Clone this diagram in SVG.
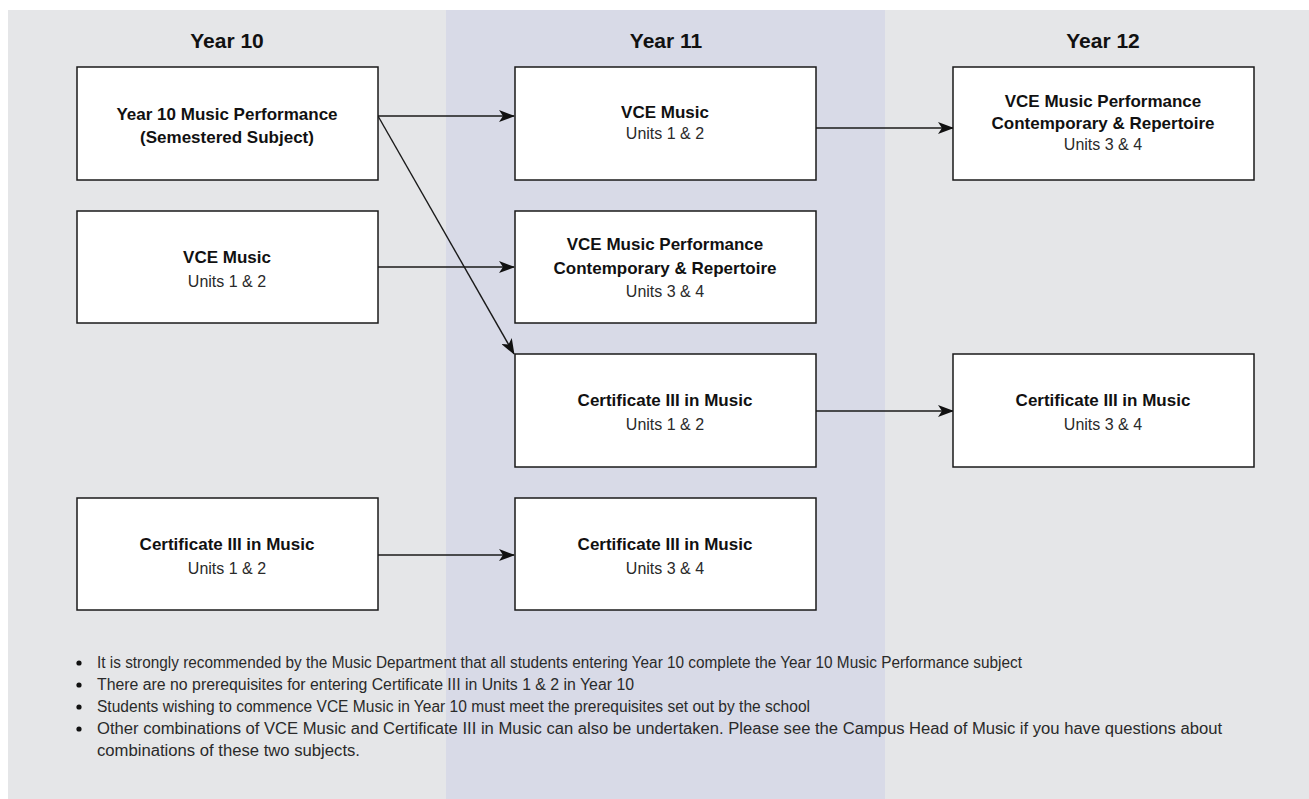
<svg xmlns="http://www.w3.org/2000/svg" width="1309" height="799" viewBox="0 0 1309 799">
<style>
.hdr{font-family:"Liberation Sans",Arial,sans-serif;font-weight:bold;font-size:21px;fill:#111;text-anchor:middle}
.box{fill:#fff;stroke:#1a1a1a;stroke-width:1.5}
.b{font-family:"Liberation Sans",Arial,sans-serif;font-weight:bold;font-size:17px;fill:#111;text-anchor:middle}
.r{font-family:"Liberation Sans",Arial,sans-serif;font-size:16px;fill:#2a2a2a;text-anchor:middle}
.n{font-family:"Liberation Sans",Arial,sans-serif;font-size:16px;fill:#2a2a2a}
.c{fill:none;stroke:#1a1a1a;stroke-width:1.4}
</style>
<defs>
<marker id="ah" viewBox="0 0 16 12" refX="15" refY="6" markerWidth="16" markerHeight="12" markerUnits="userSpaceOnUse" orient="auto">
<path d="M0,0 L16,6 L0,12 L4,6 Z" fill="#111"/>
</marker>
</defs>
<rect x="8" y="10" width="1301" height="789" fill="#e5e6e8"/>
<rect x="446" y="10" width="439" height="789" fill="#d8dae7"/>
<g id="headers">
<text class="hdr" x="227" y="48">Year 10</text>
<text class="hdr" x="666" y="48">Year 11</text>
<text class="hdr" x="1103" y="48">Year 12</text>
</g>
<g id="connectors">
<line class="c" x1="378" y1="116" x2="514" y2="116" marker-end="url(#ah)"/>
<line class="c" x1="378" y1="116" x2="514" y2="354" marker-end="url(#ah)"/>
<line class="c" x1="378" y1="267" x2="514" y2="267" marker-end="url(#ah)"/>
<line class="c" x1="816" y1="128" x2="953" y2="128" marker-end="url(#ah)"/>
<line class="c" x1="816" y1="411" x2="953" y2="411" marker-end="url(#ah)"/>
<line class="c" x1="378" y1="555" x2="514" y2="555" marker-end="url(#ah)"/>
</g>
<g id="y10-performance">
<rect class="box" x="77" y="67" width="301" height="113"/>
<text class="b" x="227" y="120">Year 10 Music Performance</text>
<text class="b" x="227" y="143">(Semestered Subject)</text>
</g>
<g id="y10-vce">
<rect class="box" x="77" y="211" width="301" height="112"/>
<text class="b" x="227" y="263">VCE Music</text>
<text class="r" x="227" y="287">Units 1 &amp; 2</text>
</g>
<g id="y10-cert">
<rect class="box" x="77" y="498" width="301" height="112"/>
<text class="b" x="227" y="550">Certificate III in Music</text>
<text class="r" x="227" y="574">Units 1 &amp; 2</text>
</g>
<g id="y11-vce">
<rect class="box" x="515" y="67" width="301" height="113"/>
<text class="b" x="665" y="118">VCE Music</text>
<text class="r" x="665" y="139">Units 1 &amp; 2</text>
</g>
<g id="y11-vce-perf">
<rect class="box" x="515" y="211" width="301" height="112"/>
<text class="b" x="665" y="250">VCE Music Performance</text>
<text class="b" x="665" y="274">Contemporary &amp; Repertoire</text>
<text class="r" x="665" y="297">Units 3 &amp; 4</text>
</g>
<g id="y11-cert12">
<rect class="box" x="515" y="354" width="301" height="113"/>
<text class="b" x="665" y="406">Certificate III in Music</text>
<text class="r" x="665" y="430">Units 1 &amp; 2</text>
</g>
<g id="y11-cert34">
<rect class="box" x="515" y="498" width="301" height="112"/>
<text class="b" x="665" y="550">Certificate III in Music</text>
<text class="r" x="665" y="574">Units 3 &amp; 4</text>
</g>
<g id="y12-vce-perf">
<rect class="box" x="953" y="67" width="301" height="113"/>
<text class="b" x="1103" y="107">VCE Music Performance</text>
<text class="b" x="1103" y="129">Contemporary &amp; Repertoire</text>
<text class="r" x="1103" y="150">Units 3 &amp; 4</text>
</g>
<g id="y12-cert">
<rect class="box" x="953" y="354" width="301" height="113"/>
<text class="b" x="1103" y="406">Certificate III in Music</text>
<text class="r" x="1103" y="430">Units 3 &amp; 4</text>
</g>
<g id="notes">
<circle cx="79" cy="663" r="2.6" fill="#111"/>
<circle cx="79" cy="685" r="2.6" fill="#111"/>
<circle cx="79" cy="707" r="2.6" fill="#111"/>
<circle cx="79" cy="729" r="2.6" fill="#111"/>
<text class="n" x="97" y="668" textLength="925" lengthAdjust="spacingAndGlyphs">It is strongly recommended by the Music Department that all students entering Year 10 complete the Year 10 Music Performance subject</text>
<text class="n" x="97" y="690" textLength="537" lengthAdjust="spacingAndGlyphs">There are no prerequisites for entering Certificate III in Units 1 &amp; 2 in Year 10</text>
<text class="n" x="97" y="712" textLength="713" lengthAdjust="spacingAndGlyphs">Students wishing to commence VCE Music in Year 10 must meet the prerequisites set out by the school</text>
<text class="n" x="97" y="734" textLength="1125" lengthAdjust="spacingAndGlyphs">Other combinations of VCE Music and Certificate III in Music can also be undertaken. Please see the Campus Head of Music if you have questions about</text>
<text class="n" x="97" y="756" textLength="263" lengthAdjust="spacingAndGlyphs">combinations of these two subjects.</text>
</g>
</svg>
